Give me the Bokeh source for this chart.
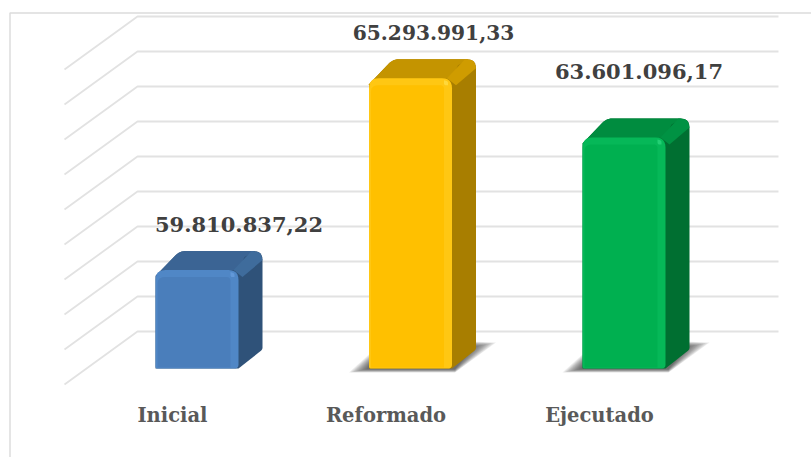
import math
from bokeh.plotting import figure
from bokeh.models import Range1d, FixedTicker, LinearAxis, ColumnDataSource
from bokeh.core.properties import value
from bokeh.embed import file_html
from bokeh.resources import INLINE

# ---- data ----
categories = ["Inicial", "Reformado", "Ejecutado"]
amounts = [59810837.22, 65293991.33, 63601096.17]
amount_labels = ["59.810.837,22", "65.293.991,33", "63.601.096,17"]
wall_ticks = [57, 58, 59, 60, 61, 62, 63, 64, 65, 66]  # millions

# ---- styles ----
front_colors = ["#4a7ebb", "#ffc000", "#00b050"]
light_colors = ["#5087c6", "#ffc713", "#06b858"]
bright_colors = ["#6a9fe0", "#ffe04d", "#30d880"]
top_colors = ["#3b6494", "#c49400", "#008c3f"]
band_colors = ["#3f6c9c", "#cf9c00", "#009243"]
side_colors = ["#2f5279", "#a87e00", "#006f31"]
shadow_strength = [0.0, 0.3, 0.3]
label_dx = [42, 23, 15]
label_dy = [-46, -46, -66]
label_sizes = ["21px", "20.2px", "21px"]

W, H = 811, 457
PX_X = 213.5
PX_Y = 35.0
BACK_Y_TOP = 16
LABEL_X0 = 172
BACK_X0, BACK_X1 = 137, 778
FLOOR_DX, FLOOR_DY = 73, 53
BAR_PLANE_DY = 37
BAR_SHIFT = 24.5
HALF = 41.5
DX, DY = 24, 19

x_start = -LABEL_X0 / PX_X
x_end = x_start + W / PX_X
y_end = wall_ticks[-1] + BACK_Y_TOP / PX_Y
y_start = y_end - H / PX_Y


def vx(px):
    return x_start + px / PX_X


def vy(px):
    return y_end - px / PX_Y


p = figure(width=W, height=H, output_backend="svg", toolbar_location=None,
           x_range=Range1d(x_start, x_end), y_range=Range1d(y_start, y_end),
           x_axis_location=None, y_axis_location=None,
           min_border_left=0, min_border_right=0, min_border_top=0, min_border_bottom=0)
p.outline_line_color = None
p.grid.visible = False
p.background_fill_color = "white"


def X(px_from_cat, i):
    return i + px_from_cat / PX_X


def rounded(points):
    out_x, out_y = [], []
    n = len(points)
    for k in range(n):
        x, y, r = points[k]
        if r <= 0:
            out_x.append(x)
            out_y.append(y)
            continue
        x0, y0, _ = points[k - 1]
        x1, y1, _ = points[(k + 1) % n]
        l0 = math.hypot(x0 - x, y0 - y)
        l1 = math.hypot(x1 - x, y1 - y)
        ax, ay = x + (x0 - x) * r / l0, y + (y0 - y) * r / l0
        bx, by = x + (x1 - x) * r / l1, y + (y1 - y) * r / l1
        for s in range(7):
            t = s / 6
            out_x.append((1 - t) ** 2 * ax + 2 * t * (1 - t) * x + t * t * bx)
            out_y.append((1 - t) ** 2 * ay + 2 * t * (1 - t) * y + t * t * by)
    return out_x, out_y


def poly(i, v, pts, **kw):
    xs, ys = rounded(pts)
    base = v - BAR_PLANE_DY / PX_Y
    p.patch([X(BAR_SHIFT + a, i) for a in xs], [base + b / PX_Y for b in ys], line_color=None, **kw)


# chart-area border: only its top and left edges fall inside the picture
p.line([vx(9.5), vx(9.5), vx(W)], [vy(H), vy(12.5), vy(12.5)], line_color="#dcdcdc", line_width=1.5)

# walls
wall_x = [[vx(BACK_X0 - FLOOR_DX), vx(BACK_X0), vx(BACK_X1)] for _ in wall_ticks]
wall_y = [[t - FLOOR_DY / PX_Y, t, t] for t in wall_ticks]
p.multi_line(wall_x, wall_y, line_color="#e2e2e2", line_width=1.8)

floor_value = wall_ticks[0]
for i, amount in enumerate(amounts):
    h = (amount / 1e6 - floor_value) * PX_Y
    L, R = -HALF, HALF

    if shadow_strength[i] > 0:
        for k in range(12):
            poly(i, floor_value,
                 [(L - 20 + 1.6 * k, -4 + 0.3 * k, 0), (R + 3, -4 + 0.3 * k, 0),
                  (R + DX + 20 - 2 * k, DY + 7 - 0.4 * k, 0), (R + DX - 6, DY + 8 - 0.4 * k, 0),
                  (L, 14 - k, 0)],
                 fill_color="#202020", fill_alpha=shadow_strength[i] * 0.27)

    poly(i, floor_value,
         [(L, h - 6, 0), (L + DX, h + DY, 6), (R + DX, h + DY, 9), (R + DX, DY, 2), (R, 0, 0), (L, 0, 0)],
         fill_color=side_colors[i])
    poly(i, floor_value,
         [(L, h - 6, 0), (L + DX, h + DY, 6), (R + DX - 7, h + DY, 2), (R + 6, h + DY - 6, 0), (R, h, 0)],
         fill_color=top_colors[i])
    poly(i, floor_value,
         [(R - 5, h, 0), (R + DX - 11, h + DY, 0), (R + DX - 2, h + DY - 1, 4), (R + DX, h + DY - 9, 0), (R + 4, h - 7, 0)],
         fill_color=band_colors[i])
    poly(i, floor_value,
         [(L, 0, 2), (L, h, 10), (R, h, 10), (R, 0, 4)],
         fill_color=light_colors[i])
    poly(i, floor_value,
         [(L + 2, 1, 0), (L + 2, h - 7, 7), (R - 8, h - 7, 4), (R - 8, 1, 0)],
         fill_color=front_colors[i])
    poly(i, floor_value,
         [(R - 8, h - 2, 0), (R - 4, h - 3, 2), (R - 4, h - 7, 0), (R - 8, h - 7, 2)],
         fill_color=bright_colors[i], fill_alpha=0.7)

lab_src = ColumnDataSource(dict(
    x=[X(BAR_SHIFT, i) for i in range(3)],
    y=[a / 1e6 - BAR_PLANE_DY / PX_Y for a in amounts],
    t=amount_labels, dx=label_dx, dy=label_dy, fs=label_sizes))
p.text("x", "y", text="t", x_offset="dx", y_offset="dy", source=lab_src,
       text_font=value("DejaVu Serif"), text_font_style="bold", text_font_size="fs",
       text_color="#404040", text_align="center", text_baseline="middle")

ax = LinearAxis(ticker=FixedTicker(ticks=list(range(len(categories)))),
                major_label_overrides={i: c for i, c in enumerate(categories)})
ax.fixed_location = vy(392)
ax.axis_line_color = None
ax.major_tick_line_color = None
ax.minor_tick_line_color = None
ax.major_label_standoff = 5
ax.major_label_text_font = "DejaVu Serif"
ax.major_label_text_font_style = "bold"
ax.major_label_text_font_size = "19.5px"
ax.major_label_text_color = "#595959"
p.add_layout(ax, "below")

open("out.html", "w").write(file_html(p, INLINE))
